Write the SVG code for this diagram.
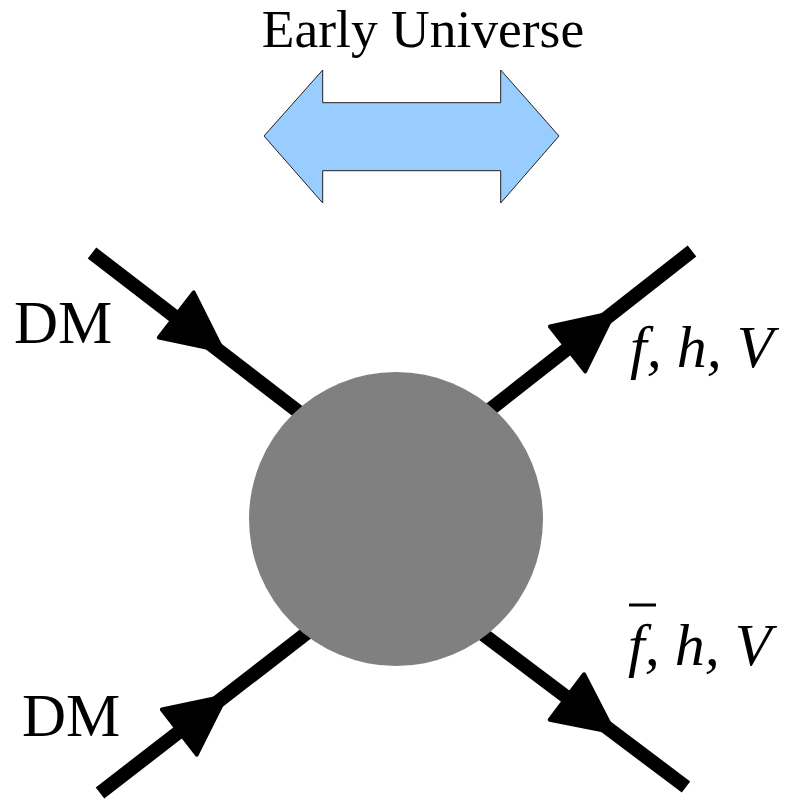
<svg xmlns="http://www.w3.org/2000/svg" xmlns:xlink="http://www.w3.org/1999/xlink" width="806" height="800" viewBox="0 0 806 800">
<style>
.lbl{font-family:"Liberation Serif","Times New Roman","DejaVu Serif",serif;fill:#000}
.it{font-style:italic}
.prop{stroke:#000;stroke-width:14;fill:none}
.head{fill:#000;stroke:#000;stroke-width:4;stroke-linejoin:round}
</style>
<defs>
<path id="ah" d="M0,0 L-59,-28.5 L-59,28.5 Z"/>
</defs>
<rect width="806" height="800" fill="#fff"/>
<g id="title">
<text class="lbl" x="423" y="47" font-size="53.5" text-anchor="middle">Early Universe</text>
</g>
<g id="double-arrow">
<polygon points="264,136 322.7,70 322.7,102.7 500.7,102.7 500.7,70 559,136 500.7,203 500.7,170.7 322.7,170.7 322.7,203" fill="#99ccff" stroke="#222" stroke-width="1"/>
</g>
<g id="connectors">
<line class="prop" x1="92" y1="253" x2="330" y2="436"/>
<line class="prop" x1="692" y1="251" x2="460" y2="433"/>
<line class="prop" x1="100" y1="793" x2="330" y2="615"/>
<line class="prop" x1="686" y1="787" x2="460" y2="617"/>
<use xlink:href="#ah" class="head" transform="translate(223,351) rotate(37.6)"/>
<use xlink:href="#ah" class="head" transform="translate(614,312.5) rotate(-38.1)"/>
<use xlink:href="#ah" class="head" transform="translate(226,696) rotate(-37.7)"/>
<use xlink:href="#ah" class="head" transform="translate(614,732.5) rotate(37)"/>
</g>
<g id="blob">
<circle cx="396" cy="519" r="147" fill="#808080"/>
</g>
<g id="dm-in-1">
<text class="lbl" x="14" y="343" font-size="61">DM</text>
</g>
<g id="dm-in-2">
<text class="lbl" x="22" y="736" font-size="61">DM</text>
</g>
<g id="out-1">
<text class="lbl it" x="630" y="367" font-size="60">f, h, V</text>
</g>
<g id="out-2">
<text class="lbl it" x="628" y="665" font-size="60">f, h, V</text>
<line x1="629" y1="605" x2="656" y2="605" stroke="#000" stroke-width="3"/>
</g>
</svg>
